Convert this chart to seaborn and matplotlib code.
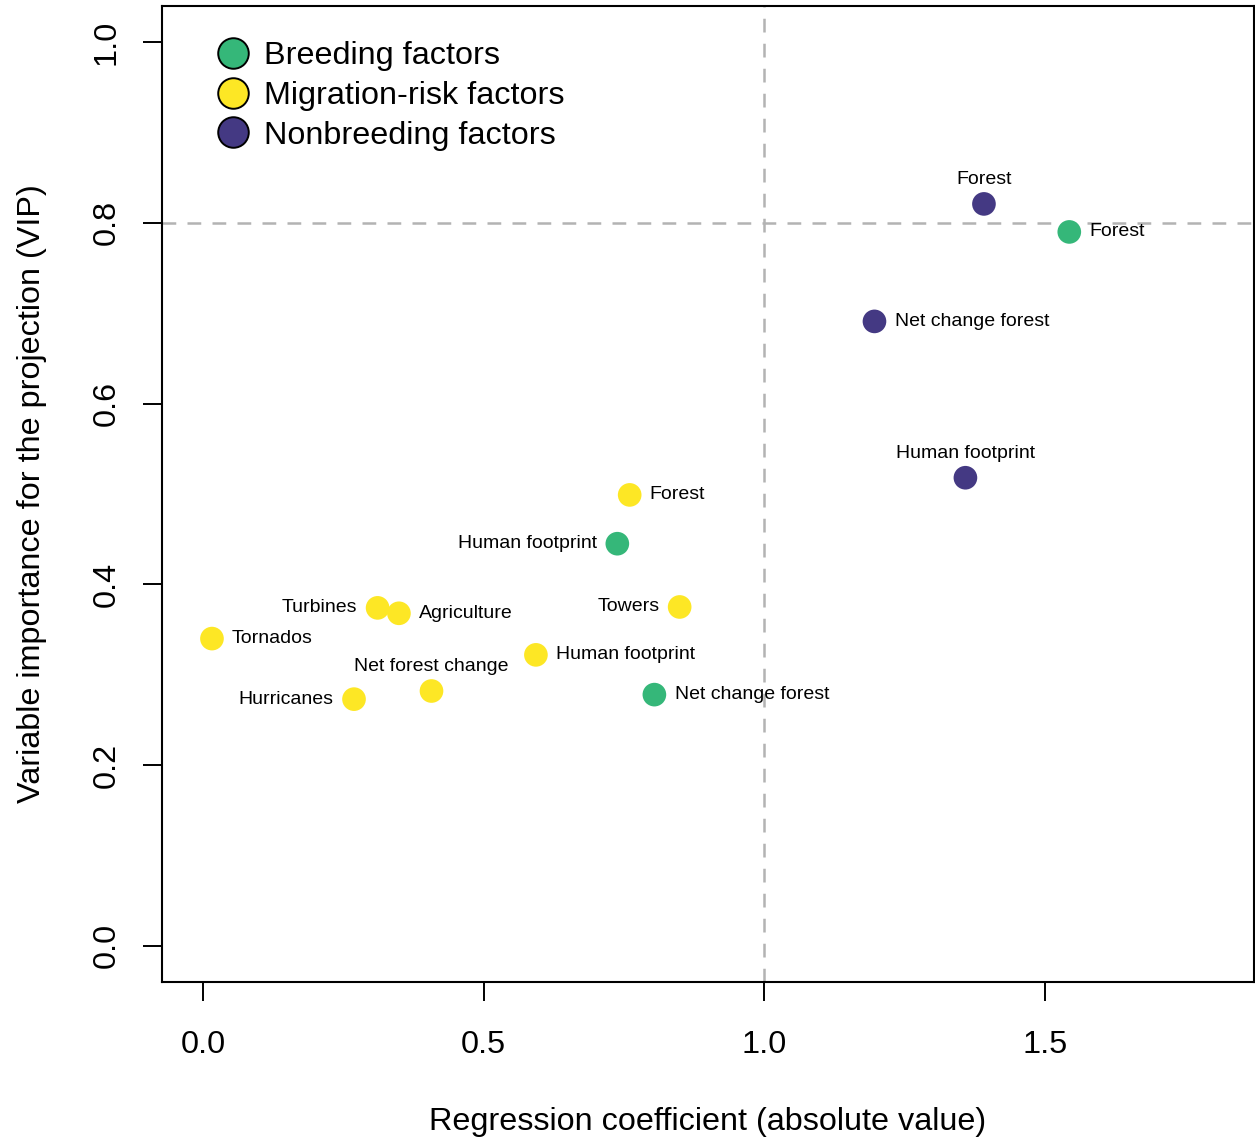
import matplotlib
matplotlib.use("Agg")
import matplotlib.pyplot as plt
from matplotlib.lines import Line2D
import seaborn as sns
import pandas as pd

# ---- data ----
labels = ["Forest", "Net change forest", "Human footprint",
          "Forest", "Human footprint", "Net change forest",
          "Forest", "Turbines", "Agriculture", "Towers", "Tornados",
          "Human footprint", "Net forest change", "Hurricanes"]
groups = ["Nonbreeding factors", "Nonbreeding factors", "Nonbreeding factors",
          "Breeding factors", "Breeding factors", "Breeding factors",
          "Migration-risk factors", "Migration-risk factors", "Migration-risk factors",
          "Migration-risk factors", "Migration-risk factors", "Migration-risk factors",
          "Migration-risk factors", "Migration-risk factors"]
coef = [1.391, 1.196, 1.358,
        1.543, 0.738, 0.804,
        0.760, 0.311, 0.349, 0.849, 0.016, 0.593, 0.407, 0.269]
vip = [0.821, 0.691, 0.518,
       0.790, 0.445, 0.278,
       0.499, 0.374, 0.368, 0.375, 0.340, 0.322, 0.282, 0.273]
label_pos = ["top", "right", "top",
             "right", "left", "right",
             "right", "left", "right", "left", "right", "right", "top", "left"]
group_order = ["Breeding factors", "Migration-risk factors", "Nonbreeding factors"]
group_colors = ["#35B779", "#FDE725", "#443983"]
x_ticks = [0.0, 0.5, 1.0, 1.5]
y_ticks = [0.0, 0.2, 0.4, 0.6, 0.8, 1.0]

df = pd.DataFrame({"label": labels, "group": groups, "coef": coef,
                   "vip": vip, "pos": label_pos})
palette = dict(zip(group_order, group_colors))

sns.set_theme(style="white")
plt.rcParams["font.family"] = ["Liberation Sans", "DejaVu Sans"]
plt.rcParams.update({"text.color": "black", "axes.labelcolor": "black",
                     "xtick.color": "black", "ytick.color": "black",
                     "xtick.labelcolor": "black", "ytick.labelcolor": "black"})

fig = plt.figure(figsize=(12.55, 11.39), dpi=100)
ax = fig.add_axes([162 / 1255, 1 - 982 / 1139, (1254 - 162) / 1255, (982 - 6) / 1139])

ax.axvline(1.0, color="#B3B3B3", lw=1.8, ls=(0, (5.5, 4.5)), zorder=1)
ax.axhline(0.8, color="#B3B3B3", lw=1.8, ls=(0, (5.5, 4.5)), zorder=1)

sns.scatterplot(data=df, x="coef", y="vip", hue="group", hue_order=group_order,
                palette=palette, s=290, edgecolor="none", linewidth=0,
                legend=False, ax=ax, zorder=3)

fs_ann = 14
for _, r in df.iterrows():
    if r["pos"] == "right":
        ax.annotate(r["label"], (r["coef"], r["vip"]), xytext=(14.5, 0),
                    textcoords="offset points", ha="left", va="center",
                    fontsize=fs_ann, color="black", zorder=2)
    elif r["pos"] == "left":
        ax.annotate(r["label"], (r["coef"], r["vip"]), xytext=(-14.5, 0),
                    textcoords="offset points", ha="right", va="center",
                    fontsize=fs_ann, color="black", zorder=2)
    else:
        ax.annotate(r["label"], (r["coef"], r["vip"]), xytext=(0, 17.5),
                    textcoords="offset points", ha="center", va="center",
                    fontsize=fs_ann, color="black", zorder=2)

fs = 23.3
ax.set_xlim(-0.073, 1.872)
ax.set_ylim(-0.040, 1.040)
ax.set_xticks(x_ticks)
ax.set_yticks(y_ticks)
ax.set_xticklabels([f"{v:.1f}" for v in x_ticks])
ax.set_yticklabels([f"{v:.1f}" for v in y_ticks], rotation=90, va="center")
ax.tick_params(axis="both", which="major", length=14, width=1.4, color="black",
               labelsize=fs, labelcolor="black", direction="out", bottom=True, left=True)
ax.tick_params(axis="x", pad=20.5)
ax.tick_params(axis="y", pad=15)
for sp in ax.spines.values():
    sp.set_color("black")
    sp.set_linewidth(1.5)

ax.set_xlabel("Regression coefficient (absolute value)", fontsize=fs, labelpad=34, color="black")
ax.set_ylabel("Variable importance for the projection (VIP)", fontsize=fs, labelpad=32, color="black")

handles = [Line2D([0], [0], marker="o", ls="", markersize=22,
                  markerfacecolor=c, markeredgecolor="black", markeredgewidth=1.4)
           for c in group_colors]
leg = ax.legend(handles, group_order, loc="upper left", bbox_to_anchor=(0.0356, 0.977),
                frameon=False, fontsize=fs, handletextpad=0.355, labelspacing=0.3,
                borderaxespad=0, handlelength=1.2)
for t in leg.get_texts():
    t.set_color("black")

fig.savefig("out.png", dpi=100)
